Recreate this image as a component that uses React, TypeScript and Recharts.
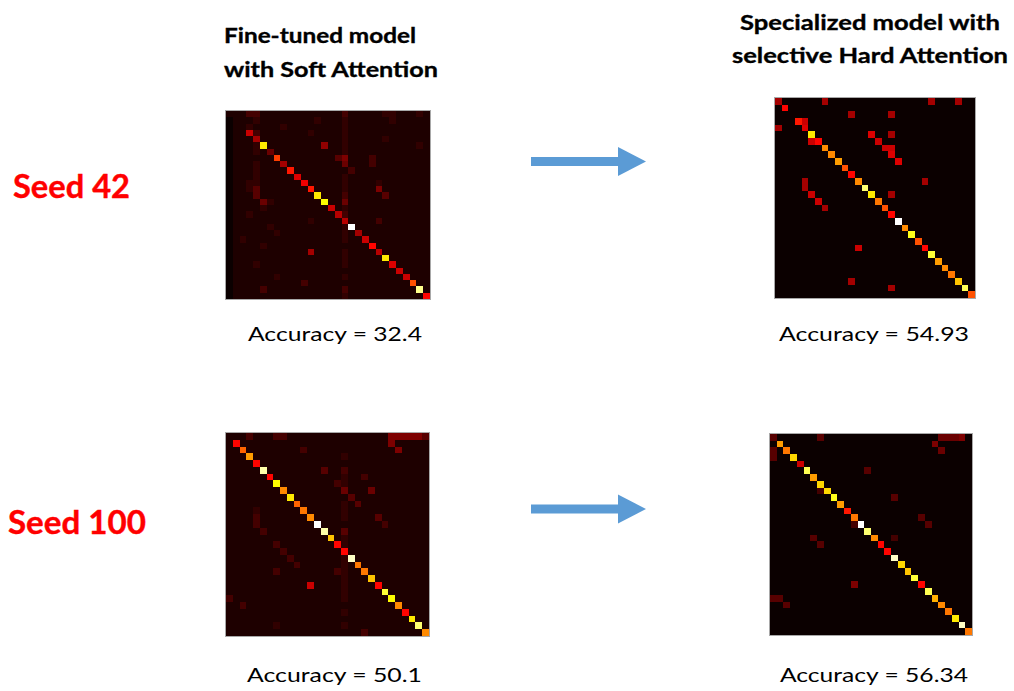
import { ScatterChart, Scatter, XAxis, YAxis } from "recharts";

// intensity codes, 0 = lowest .. Z = highest
const LEVELS = "0123456789ABCDEFGHIJKLMNOPQRSTUVWXYZ";

const seed42Soft = [
  "1113311111 1111111311 1112211121",
  "0111211111 1112111211 1111211111",
  "0112111121 1111111211 1111111111",
  "011A311111 1121111211 1111111111",
  "0111811111 1111111211 1112111111",
  "01112P1111 1111711211 1111111121",
  "0111215111 1111111211 1111111111",
  "0111111G11 1111114611 1311111111",
  "0111211181 1111111511 1311111111",
  "011121111E 1111111131 1111111111",
  "0111211111 B111111211 1111111111",
  "0112211111 1C11111211 1121111111",
  "0112411111 11E1111211 1161111111",
  "0111411111 111P111311 1114111111",
  "0111152111 1111Q11511 1111111111",
  "0111121111 11111A1211 1111111111",
  "0112111111 1111119311 1111111111",
  "0111111111 1121111911 1131111111",
  "0111112111 11111112Z1 1111111111",
  "0111111211 1111111218 1111111111",
  "0121111111 1111111211 A111111111",
  "0111121111 1111111111 1D11111111",
  "0111111111 1181111211 1191111111",
  "0111111111 1111111211 111P111111",
  "0111211111 1111111211 1111B11111",
  "0111111111 1111111111 11111A1111",
  "0111111211 1111111211 111111A111",
  "0111111111 1311111111 1111111H11",
  "0111131111 1111111311 11111111V1",
  "0111111111 1111111211 111111111D",
];

const seed42Hard = [
  "8000000800 0000000000 0008000800",
  "0D00000000 0000000000 0000000000",
  "0000000000 0800000800 0000000000",
  "000EA00000 0000000000 0000000000",
  "8000B00000 0000000000 0000000000",
  "00000P0000 0000B00800 0000000000",
  "00000AD000 00000A0000 0000000000",
  "0000000K00 000000AA00 0000000000",
  "00000000K0 0000000B00 0000000000",
  "000000000L 00000000B0 0000000000",
  "0000000000 H000000000 0000000000",
  "0000000000 0D00000000 0000000000",
  "0000800000 00K0000000 0080000000",
  "0000800000 000U000000 0000000000",
  "00000A0000 0000P00800 0000000000",
  "000000A000 00000J0000 0000000000",
  "0000000800 000000H000 0000000000",
  "0000000000 0000000D00 0000000000",
  "0000000000 00000000Z0 0000000000",
  "0000000000 000000000K 0000000000",
  "0000000000 0000000000 R000000000",
  "0000000000 0000000000 0H00000000",
  "0000000000 00A0000000 00D0000000",
  "0000000000 0000000000 000S000000",
  "0000000000 0000000000 0000L00000",
  "0000000000 0000000000 00000K0000",
  "0000000000 0000000000 000000J000",
  "0000000000 0800000000 0000000N00",
  "0000000000 0000000800 00000000T0",
  "0000000000 0000000000 000000000H",
];

const seed100Soft = [
  "1113111331 1111111111 1111666664",
  "1D11111111 1111111111 1111611111",
  "11I1111111 1311111111 1111161111",
  "111L111111 1111111211 1111111111",
  "1111D11111 1111111111 1111111111",
  "11111W1111 1111411311 1111111111",
  "111111D111 1111111211 3111111111",
  "1111111Q11 1111113211 1111111111",
  "11111111K1 1111111511 1511111111",
  "111111111P 1111111141 1111111111",
  "1111111111 I111111214 1111111111",
  "1111211111 1J11111211 1111111111",
  "1111311111 11K1111211 1141111111",
  "1111311111 111Z111111 1113111111",
  "1111131111 1111W11411 1111111111",
  "1111111111 11111N1211 1111111111",
  "1111111311 111111D211 1111111111",
  "1111111131 1111111D11 1111111111",
  "1111111113 11111112X1 1111111111",
  "1111111111 311111121J 1111111111",
  "1111111311 1111113211 J111111111",
  "1111111111 1111111211 1N11111111",
  "1111111111 11A1111211 11D1111111",
  "1111111111 1111111211 111S111111",
  "3111111111 1111111211 1111Q11111",
  "1131111111 1111111111 11111K1111",
  "1111111111 1111111211 111111D111",
  "1111111111 1111111111 1111111P11",
  "1111111211 1111111211 11111111U1",
  "1111111111 1111111111 311111111K",
];

const seed100Hard = [
  "4000000400 0000000000 0000055560",
  "0L00000000 0000000000 0000600000",
  "40J0000000 0000000000 0000050000",
  "400O000000 0000000000 0000000000",
  "0000A00000 0000000000 0000000000",
  "00000T0000 0000400000 0000000000",
  "000000L000 0000000000 0000000000",
  "0000000O00 0000000000 0000000000",
  "00000003O0 0000000000 0000000000",
  "000000000R 0000000040 0000000000",
  "0000000000 L000000000 0000000000",
  "0000000000 0E00000000 0000000000",
  "0000000000 00J0000000 0040000000",
  "0000000000 003Z000000 0004000000",
  "0000000000 0000U00000 0000000000",
  "0000004000 00000K0030 0000000000",
  "0000000400 000000D000 0000000000",
  "0000000000 0000000D00 0000000000",
  "0000000000 00000000X0 0000000000",
  "0000000000 000000000O 0000000000",
  "0000000000 0000000000 N000000000",
  "0000000000 0000000000 0S00000000",
  "0000000000 0060000000 00D0000000",
  "0000000000 0000000000 000T000000",
  "4400000000 0000000000 0000M00000",
  "0040000000 0000000000 00000K0000",
  "0000000000 0000000000 000000J000",
  "0000000000 0000000000 0000000P00",
  "0000000000 0000000000 00000000X0",
  "0000000000 0000000000 000000000J",
];

const leftTitle = ["Fine-tuned model", "with Soft Attention"];
const rightTitle = ["Specialized model with", "selective Hard Attention"];
const seedLabels = ["Seed 42", "Seed 100"];
const accuracies = ["32.4", "54.93", "50.1", "56.34"];

const N = 30;

// matplotlib "hot"
function hot(v: number) {
  const r = Math.min(1, 0.0416 + (v / 0.365) * 0.9584);
  const g = Math.max(0, Math.min(1, (v - 0.365) / 0.381));
  const b = Math.max(0, Math.min(1, (v - 0.746) / 0.254));
  return `rgb(${Math.round(r * 255)},${Math.round(g * 255)},${Math.round(b * 255)})`;
}

function toCells(rows: string[]) {
  const cells: { x: number; y: number; v: number }[] = [];
  rows.forEach((row, r) => {
    row
      .replace(/ /g, "")
      .split("")
      .forEach((ch, c) => {
        cells.push({ x: c + 0.5, y: r + 0.5, v: LEVELS.indexOf(ch) / (LEVELS.length - 1) });
      });
  });
  return cells;
}

function Heatmap({ rows, left, top, width, height }: any) {
  const cw = width / N;
  const chh = height / N;
  return (
    <div
      style={{
        position: "absolute",
        left,
        top,
        width,
        height,
        background: hot(0),
        outline: "1px solid #a8a8a8",
      }}
    >
      <ScatterChart width={width} height={height} margin={{ top: 0, right: 0, bottom: 0, left: 0 }}>
        <XAxis type="number" dataKey="x" domain={[0, N]} hide />
        <YAxis type="number" dataKey="y" domain={[0, N]} reversed hide />
        <Scatter
          data={toCells(rows)}
          isAnimationActive={false}
          shape={(p: any) => (
            <rect
              x={Math.round(p.cx - cw / 2)}
              y={Math.round(p.cy - chh / 2)}
              width={Math.ceil(cw) + 1}
              height={Math.ceil(chh) + 1}
              fill={hot(p.payload.v)}
              shapeRendering="crispEdges"
            />
          )}
        />
      </ScatterChart>
    </div>
  );
}

function Arrow({ cy }: { cy: number }) {
  return (
    <g fill="#5b9bd5">
      <rect x={531} y={cy - 4.5} width={88} height={9} />
      <polygon points={`618,${cy - 14.5} 646,${cy} 618,${cy + 14.5}`} />
    </g>
  );
}

export default function App() {
  const font = "Lato, 'Open Sans', sans-serif";
  return (
    <div
      style={{
        position: "absolute",
        left: 0,
        top: 0,
        width: 1014,
        height: 691,
        background: "#fff",
        overflow: "hidden",
      }}
    >
      <Heatmap rows={seed42Soft} left={226} top={111} width={204} height={188} />
      <Heatmap rows={seed42Hard} left={775} top={98} width={200} height={200} />
      <Heatmap rows={seed100Soft} left={226} top={433} width={203} height={203} />
      <Heatmap rows={seed100Hard} left={770} top={434} width={202} height={201} />

      <svg width={1014} height={691} style={{ position: "absolute", left: 0, top: 0 }}>
        <g fontFamily={font} fontWeight={700} fill="#000" stroke="#000" strokeWidth={0.35} fontSize={21}>
          <text x={224} y={43} textLength={192} lengthAdjust="spacingAndGlyphs">
            {leftTitle[0]}
          </text>
          <text x={224} y={77} textLength={214} lengthAdjust="spacingAndGlyphs">
            {leftTitle[1]}
          </text>
          <text x={740} y={30} textLength={260} lengthAdjust="spacingAndGlyphs">
            {rightTitle[0]}
          </text>
          <text x={732} y={63} textLength={276} lengthAdjust="spacingAndGlyphs">
            {rightTitle[1]}
          </text>
        </g>
        <g fontFamily={font} fontWeight={700} fill="#ff0000" stroke="#ff0000" strokeWidth={0.4} fontSize={33}>
          <text x={13} y={198} textLength={117} lengthAdjust="spacingAndGlyphs">
            {seedLabels[0]}
          </text>
          <text x={8} y={534} textLength={138} lengthAdjust="spacingAndGlyphs">
            {seedLabels[1]}
          </text>
        </g>
        <g fontFamily={font} fill="#000" fontSize={20}>
          <text x={248} y={341} textLength={174} lengthAdjust="spacingAndGlyphs">
            {`Accuracy = ${accuracies[0]}`}
          </text>
          <text x={779} y={341} textLength={190} lengthAdjust="spacingAndGlyphs">
            {`Accuracy = ${accuracies[1]}`}
          </text>
          <text x={247} y={682} textLength={175} lengthAdjust="spacingAndGlyphs">
            {`Accuracy = ${accuracies[2]}`}
          </text>
          <text x={780} y={682} textLength={188} lengthAdjust="spacingAndGlyphs">
            {`Accuracy = ${accuracies[3]}`}
          </text>
        </g>
        <Arrow cy={161.5} />
        <Arrow cy={509} />
      </svg>
    </div>
  );
}
